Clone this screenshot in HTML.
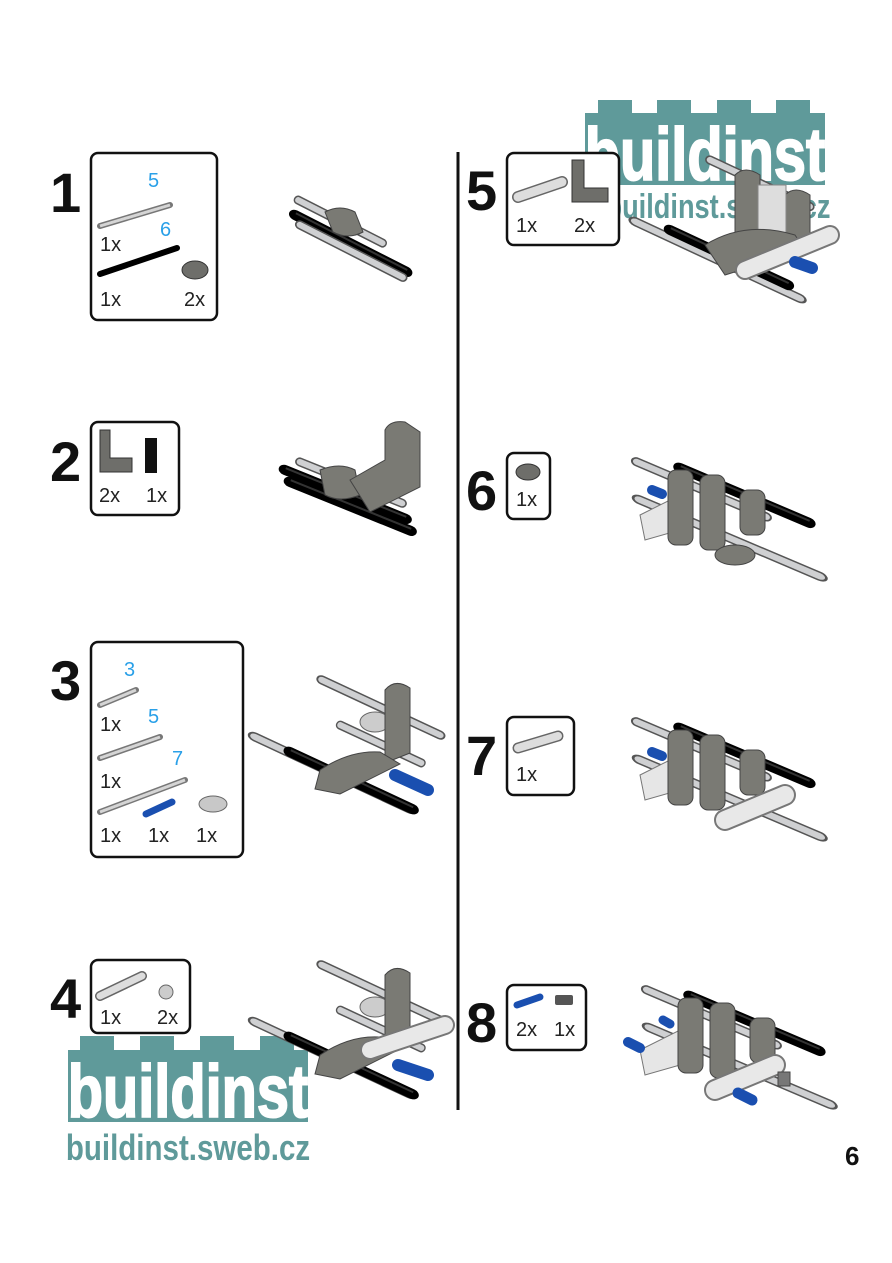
<!DOCTYPE html>
<html><head><meta charset="utf-8"><style>
html,body{margin:0;padding:0;background:#fff}
svg{display:block}
text{font-family:"Liberation Sans",sans-serif}
.n{font-weight:bold;font-size:56px;fill:#111}
.q{font-size:20px;fill:#222}
.b{font-size:20px;fill:#2aa0e8}
.box{fill:#fff;stroke:#111;stroke-width:2.5}
.lg{font-weight:bold;fill:#fff;stroke:#fff;stroke-width:2}
</style></head><body>
<svg width="892" height="1263" viewBox="0 0 892 1263" xmlns="http://www.w3.org/2000/svg">
<defs>
<g id="sh"><line x1="0" y1="0" x2="100" y2="0" stroke="#555" stroke-width="9" stroke-linecap="round"/><line x1="0" y1="0" x2="100" y2="0" stroke="#cfd0d2" stroke-width="6" stroke-linecap="round"/></g>
<g id="bk"><line x1="0" y1="0" x2="100" y2="0" stroke="#000" stroke-width="10" stroke-linecap="round"/><line x1="0" y1="-2" x2="100" y2="-2" stroke="#333" stroke-width="2"/></g>
</defs>

<!-- top logo -->
<g fill="#5f9a9a">
<rect x="598" y="100" width="34" height="15"/><rect x="657" y="100" width="34" height="15"/><rect x="717" y="100" width="34" height="15"/><rect x="776" y="100" width="34" height="15"/>
<rect x="585" y="113" width="240" height="72"/>
</g>
<text class="lg" x="705" y="180" font-size="74" text-anchor="middle" transform="translate(705 0) scale(0.78 1) translate(-705 0)">buildinst</text>
<text x="718" y="218" font-size="34" font-weight="bold" fill="#5f9a9a" text-anchor="middle" transform="translate(718 0) scale(0.8 1) translate(-718 0)">buildinst.sweb.cz</text>

<!-- bottom logo -->
<g fill="#5f9a9a">
<rect x="80" y="1036" width="34" height="16"/><rect x="140" y="1036" width="34" height="16"/><rect x="200" y="1036" width="34" height="16"/><rect x="260" y="1036" width="34" height="16"/>
<rect x="68" y="1050" width="240" height="72"/>
</g>
<text class="lg" x="188" y="1117" font-size="74" text-anchor="middle" transform="translate(188 0) scale(0.78 1) translate(-188 0)">buildinst</text>
<text x="188" y="1160" font-size="36" font-weight="bold" fill="#5f9a9a" text-anchor="middle" transform="translate(188 0) scale(0.82 1) translate(-188 0)">buildinst.sweb.cz</text>

<!-- divider -->
<line x1="458" y1="152" x2="458" y2="1110" stroke="#111" stroke-width="3"/>

<!-- step numbers -->
<text class="n" x="50" y="212">1</text>
<text class="n" x="50" y="481">2</text>
<text class="n" x="50" y="700">3</text>
<text class="n" x="50" y="1018">4</text>
<text class="n" x="466" y="210">5</text>
<text class="n" x="466" y="510">6</text>
<text class="n" x="466" y="775">7</text>
<text class="n" x="466" y="1042">8</text>
<text x="845" y="1165" font-size="26" font-weight="bold" fill="#111">6</text>

<!-- box 1 -->
<rect class="box" x="91" y="153" width="126" height="167" rx="7"/>
<text class="b" x="148" y="187">5</text>
<line x1="100" y1="226" x2="170" y2="205" stroke="#777" stroke-width="6" stroke-linecap="round"/><line x1="100" y1="226" x2="170" y2="205" stroke="#d5d5d5" stroke-width="3"/>
<text class="q" x="100" y="251">1x</text>
<text class="b" x="160" y="236">6</text>
<line x1="100" y1="274" x2="177" y2="248" stroke="#000" stroke-width="6" stroke-linecap="round"/>
<text class="q" x="100" y="306">1x</text>
<ellipse cx="195" cy="270" rx="13" ry="9" fill="#6e6e6a" stroke="#333"/>
<text class="q" x="184" y="306">2x</text>

<!-- box 2 -->
<rect class="box" x="91" y="422" width="88" height="93" rx="7"/>
<path d="M100 430h10v28h22v14h-32z" fill="#6e6e6a" stroke="#333"/>
<rect x="145" y="438" width="12" height="35" fill="#111"/>
<text class="q" x="99" y="502">2x</text><text class="q" x="146" y="502">1x</text>

<!-- box 3 -->
<rect class="box" x="91" y="642" width="152" height="215" rx="7"/>
<text class="b" x="124" y="676">3</text>
<line x1="100" y1="705" x2="136" y2="690" stroke="#777" stroke-width="6" stroke-linecap="round"/><line x1="100" y1="705" x2="136" y2="690" stroke="#d5d5d5" stroke-width="3"/>
<text class="q" x="100" y="731">1x</text>
<text class="b" x="148" y="723">5</text>
<line x1="100" y1="758" x2="160" y2="737" stroke="#777" stroke-width="6" stroke-linecap="round"/><line x1="100" y1="758" x2="160" y2="737" stroke="#d5d5d5" stroke-width="3"/>
<text class="q" x="100" y="788">1x</text>
<text class="b" x="172" y="765">7</text>
<line x1="100" y1="812" x2="185" y2="780" stroke="#777" stroke-width="6" stroke-linecap="round"/><line x1="100" y1="812" x2="185" y2="780" stroke="#d5d5d5" stroke-width="3"/>
<line x1="146" y1="814" x2="172" y2="802" stroke="#1a4fb0" stroke-width="7" stroke-linecap="round"/>
<ellipse cx="213" cy="804" rx="14" ry="8" fill="#c8c8c8" stroke="#666"/>
<text class="q" x="100" y="842">1x</text><text class="q" x="148" y="842">1x</text><text class="q" x="196" y="842">1x</text>

<!-- box 4 -->
<rect class="box" x="91" y="960" width="99" height="73" rx="7"/>
<path d="M100 996l42-20" stroke="#666" stroke-width="10" stroke-linecap="round"/><path d="M100 996l42-20" stroke="#ddd" stroke-width="7" stroke-linecap="round"/>
<circle cx="166" cy="992" r="7" fill="#ccc" stroke="#666"/>
<text class="q" x="100" y="1024">1x</text><text class="q" x="157" y="1024">2x</text>

<!-- box 5 -->
<rect class="box" x="507" y="153" width="112" height="92" rx="7"/>
<path d="M518 197l44-15" stroke="#666" stroke-width="12" stroke-linecap="round"/><path d="M518 197l44-15" stroke="#ddd" stroke-width="9" stroke-linecap="round"/>
<path d="M572 160h12v28h24v14h-36z" fill="#6e6e6a" stroke="#333"/>
<text class="q" x="516" y="232">1x</text><text class="q" x="574" y="232">2x</text>

<!-- box 6 -->
<rect class="box" x="507" y="453" width="43" height="66" rx="7"/>
<ellipse cx="528" cy="472" rx="12" ry="8" fill="#6e6e6a" stroke="#333"/>
<text class="q" x="516" y="506">1x</text>

<!-- box 7 -->
<rect class="box" x="507" y="717" width="67" height="78" rx="7"/>
<path d="M518 748l40-12" stroke="#666" stroke-width="11" stroke-linecap="round"/><path d="M518 748l40-12" stroke="#ddd" stroke-width="8" stroke-linecap="round"/>
<text class="q" x="516" y="781">1x</text>

<!-- box 8 -->
<rect class="box" x="507" y="985" width="79" height="65" rx="7"/>
<line x1="517" y1="1005" x2="540" y2="997" stroke="#1a4fb0" stroke-width="7" stroke-linecap="round"/>
<rect x="555" y="995" width="18" height="10" fill="#555" rx="2"/>
<text class="q" x="516" y="1036">2x</text><text class="q" x="554" y="1036">1x</text>

<!-- model 1 -->
<g>
<use href="#sh" transform="translate(298 200) rotate(27) scale(0.95 1)"/>
<use href="#bk" transform="translate(295 215) rotate(27) scale(1.25 1)"/>
<use href="#sh" transform="translate(300 225) rotate(27) scale(1.15 1)"/>
<path d="M325 212q15-8 30 0l8 20q-15 8-30 0z" fill="#7a7a74" stroke="#444"/>
</g>

<!-- model 2 -->
<g>
<use href="#bk" transform="translate(285 470) rotate(22) scale(1.3 1)"/>
<use href="#sh" transform="translate(300 462) rotate(22) scale(1.1 1)"/>
<use href="#bk" transform="translate(290 482) rotate(22) scale(1.3 1)"/>
<path d="M320 470q20-8 35 0l5 25q-20 8-35 0z" fill="#7a7a74" stroke="#444"/>
<path d="M350 480l35-20v-30q5-10 20-8l15 10v55l-50 25z" fill="#7a7a74" stroke="#444"/>
</g>

<!-- model 3 -->
<g>
<use href="#sh" transform="translate(322 680) rotate(25) scale(1.3 1)"/>
<use href="#sh" transform="translate(340 725) rotate(25) scale(0.9 1)"/>
<use href="#sh" transform="translate(255 737) rotate(25) scale(1.7 1)"/>
<use href="#bk" transform="translate(290 752) rotate(25) scale(1.35 1)"/>
<ellipse cx="375" cy="722" rx="15" ry="10" fill="#ccc" stroke="#666"/>
<path d="M385 720l0-30q10-12 25-2v65l-25 10z" fill="#7a7a74" stroke="#444"/>
<path d="M320 770q30-20 60-18l20 12-60 30-25-5z" fill="#7a7a74" stroke="#444"/>
<line x1="395" y1="775" x2="428" y2="790" stroke="#1a4fb0" stroke-width="12" stroke-linecap="round"/>
</g>

<!-- model 4 -->
<g>
<use href="#sh" transform="translate(322 965) rotate(25) scale(1.3 1)"/>
<use href="#sh" transform="translate(340 1010) rotate(25) scale(0.9 1)"/>
<use href="#sh" transform="translate(255 1022) rotate(25) scale(1.7 1)"/>
<use href="#bk" transform="translate(290 1037) rotate(25) scale(1.35 1)"/>
<ellipse cx="375" cy="1007" rx="15" ry="10" fill="#ccc" stroke="#666"/>
<path d="M385 1005l0-30q10-12 25-2v65l-25 10z" fill="#7a7a74" stroke="#444"/>
<path d="M320 1055q30-20 60-18l20 12-60 30-25-5z" fill="#7a7a74" stroke="#444"/>
<path d="M370 1050l75-25" stroke="#777" stroke-width="20" stroke-linecap="round"/><path d="M370 1050l75-25" stroke="#e8e8e8" stroke-width="16" stroke-linecap="round"/>
<line x1="398" y1="1065" x2="428" y2="1075" stroke="#1a4fb0" stroke-width="12" stroke-linecap="round"/>
</g>

<!-- model 5 -->
<g>
<use href="#sh" transform="translate(710 160) rotate(25) scale(1.1 1)"/>
<use href="#sh" transform="translate(636 222) rotate(25) scale(1.8 1)"/>
<use href="#bk" transform="translate(670 230) rotate(25) scale(1.3 1)"/>
<path d="M735 175q10-10 25 0v70h-25z" fill="#7a7a74" stroke="#444"/>
<path d="M785 195q10-10 25 0v55l-25 5z" fill="#7a7a74" stroke="#444"/>
<rect x="758" y="185" width="28" height="70" fill="#ddd" stroke="#888"/>
<path d="M705 245q40-25 90-10l10 15-80 25z" fill="#7a7a74" stroke="#444"/>
<path d="M745 270l85-35" stroke="#777" stroke-width="20" stroke-linecap="round"/><path d="M745 270l85-35" stroke="#e8e8e8" stroke-width="16" stroke-linecap="round"/>
<line x1="795" y1="262" x2="812" y2="268" stroke="#1a4fb0" stroke-width="12" stroke-linecap="round"/>
</g>

<!-- model 6 -->
<g>
<use href="#sh" transform="translate(637 462) rotate(23) scale(1.4 1)"/>
<use href="#sh" transform="translate(640 500) rotate(23) scale(1.95 1)"/>
<use href="#bk" transform="translate(680 468) rotate(23) scale(1.4 1)"/>
<path d="M640 515l40-20v35l-35 10z" fill="#e6e6e6" stroke="#777"/>
<rect x="668" y="470" width="25" height="75" rx="8" fill="#7a7a74" stroke="#444"/>
<rect x="700" y="475" width="25" height="75" rx="8" fill="#7a7a74" stroke="#444"/>
<rect x="740" y="490" width="25" height="45" rx="8" fill="#7a7a74" stroke="#444"/>
<ellipse cx="735" cy="555" rx="20" ry="10" fill="#7a7a74" stroke="#444"/>
<line x1="652" y1="490" x2="662" y2="494" stroke="#1a4fb0" stroke-width="10" stroke-linecap="round"/>
</g>

<!-- model 7 -->
<g>
<use href="#sh" transform="translate(637 722) rotate(23) scale(1.4 1)"/>
<use href="#sh" transform="translate(640 760) rotate(23) scale(1.95 1)"/>
<use href="#bk" transform="translate(680 728) rotate(23) scale(1.4 1)"/>
<path d="M640 775l40-20v35l-35 10z" fill="#e6e6e6" stroke="#777"/>
<rect x="668" y="730" width="25" height="75" rx="8" fill="#7a7a74" stroke="#444"/>
<rect x="700" y="735" width="25" height="75" rx="8" fill="#7a7a74" stroke="#444"/>
<rect x="740" y="750" width="25" height="45" rx="8" fill="#7a7a74" stroke="#444"/>
<path d="M725 820l60-25" stroke="#777" stroke-width="22" stroke-linecap="round"/><path d="M725 820l60-25" stroke="#e8e8e8" stroke-width="18" stroke-linecap="round"/>
<line x1="652" y1="752" x2="662" y2="756" stroke="#1a4fb0" stroke-width="10" stroke-linecap="round"/>
</g>

<!-- model 8 -->
<g>
<use href="#sh" transform="translate(647 990) rotate(23) scale(1.4 1)"/>
<use href="#sh" transform="translate(650 1028) rotate(23) scale(1.95 1)"/>
<use href="#bk" transform="translate(690 996) rotate(23) scale(1.4 1)"/>
<path d="M640 1050l40-20v35l-35 10z" fill="#e6e6e6" stroke="#777"/>
<rect x="678" y="998" width="25" height="75" rx="8" fill="#7a7a74" stroke="#444"/>
<rect x="710" y="1003" width="25" height="75" rx="8" fill="#7a7a74" stroke="#444"/>
<rect x="750" y="1018" width="25" height="45" rx="8" fill="#7a7a74" stroke="#444"/>
<path d="M715 1090l60-25" stroke="#777" stroke-width="22" stroke-linecap="round"/><path d="M715 1090l60-25" stroke="#e8e8e8" stroke-width="18" stroke-linecap="round"/>
<line x1="628" y1="1042" x2="640" y2="1048" stroke="#1a4fb0" stroke-width="10" stroke-linecap="round"/>
<line x1="663" y1="1020" x2="670" y2="1024" stroke="#1a4fb0" stroke-width="9" stroke-linecap="round"/>
<line x1="738" y1="1093" x2="752" y2="1100" stroke="#1a4fb0" stroke-width="11" stroke-linecap="round"/>
<rect x="778" y="1072" width="12" height="14" fill="#777" stroke="#444"/>
</g>
</svg>
</body></html>
